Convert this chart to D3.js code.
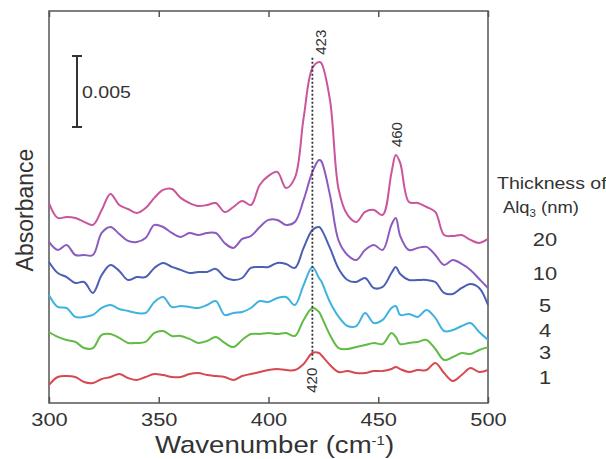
<!DOCTYPE html>
<html>
<head>
<meta charset="utf-8">
<script src="https://cdn.jsdelivr.net/npm/d3@7"></script>
<style>
  body { margin: 0; background: #fff; }
  text { font-family: "Liberation Sans", Arial, sans-serif; fill: #333; }
</style>
</head>
<body>
<svg id="chart" width="606" height="459"></svg>
<script>
// wavenumber grid (cm-1)
var wavenumber = [300,304,308,312,316,320,324,328,332,336,340,344,348,352,356,360,364,368,372,376,
    380,384,388,392,396,400,404,408,412,416,420,423,424,428,432,436,440,444,448,452,456,458,
    460,464,468,472,476,480,484,488,492,496,500];

// absorbance traces, offset as plotted (units of 1e-3)
var abs20 = [14.08,13.03,13.10,13.03,12.75,12.54,13.59,14.72,13.94,13.66,
    13.38,13.73,14.44,15.00,15.07,14.44,14.08,13.87,13.94,14.08,
    13.45,13.80,14.23,13.94,15.35,15.99,16.27,15.14,15.85,20.07,
    23.59,24.01,23.94,21.34,15.00,13.24,12.75,13.45,13.59,13.24,16.20,
    17.46,16.90,14.15,14.08,13.80,13.45,11.83,11.76,11.83,11.48,11.27,11.55];
var abs10 = [11.34,10.77,11.13,10.42,10.42,10.42,11.97,12.39,11.90,11.41,
    11.34,11.62,12.54,12.39,11.97,11.69,11.97,11.83,11.97,11.97,
    11.27,10.92,11.55,11.76,12.39,12.89,12.89,12.54,12.75,14.30,
    16.27,17.11,17.04,14.65,11.41,10.42,10.07,10.77,11.13,10.77,12.54,
    13.03,11.76,10.77,10.92,10.99,10.42,9.72,10.07,9.79,9.37,8.73,8.10];
var abs5 = [9.93,9.15,8.87,8.45,8.52,7.75,9.01,9.72,9.30,8.66,
    8.87,8.87,9.51,9.86,9.58,9.37,9.15,9.23,9.23,9.44,
    8.87,8.66,8.80,9.51,9.58,9.58,9.86,9.79,9.51,10.92,
    12.18,12.39,12.25,10.92,9.44,8.66,8.52,8.80,8.10,8.17,9.15,
    9.58,9.08,8.66,8.66,8.66,8.52,7.75,7.68,8.10,8.38,8.10,6.90];
var abs4 = [7.61,6.76,6.69,6.06,6.06,6.20,6.69,6.90,6.62,6.48,
    6.34,6.34,7.11,7.46,6.76,6.83,6.76,6.69,6.90,7.18,
    6.20,6.34,6.41,6.69,7.18,7.11,7.39,7.46,6.90,8.31,
    9.58,8.80,8.59,7.11,6.06,5.42,5.42,6.34,5.63,5.85,6.69,
    6.83,6.20,6.27,6.06,6.55,5.99,5.07,5.14,5.42,5.63,5.00,4.44];
var abs3 = [5.00,4.65,4.44,4.30,3.87,3.87,4.79,4.86,4.58,4.23,
    4.23,4.30,4.93,5.07,4.72,4.72,4.51,4.23,4.37,4.65,
    4.23,3.94,4.44,4.86,4.86,4.93,4.86,4.93,4.72,5.85,
    6.69,6.41,6.13,4.79,3.87,3.80,3.94,4.08,4.23,4.15,4.93,
    4.65,4.15,4.23,4.30,4.44,3.80,3.03,3.24,3.52,3.45,3.73,3.94];
var abs1 = [1.27,1.83,1.90,1.83,1.48,1.41,1.69,1.83,2.04,1.76,
    1.62,1.83,2.04,1.97,1.83,1.83,2.04,2.11,1.97,1.90,
    1.83,1.62,1.90,2.04,2.18,2.32,2.39,2.32,2.32,2.75,
    3.52,3.52,3.38,2.68,2.18,2.25,2.11,2.11,2.25,2.25,2.39,
    2.54,2.39,2.18,2.32,2.32,2.82,2.11,1.55,1.97,2.46,2.18,2.32];

var thickness = ["20", "10", "5", "4", "3", "1"];
var seriesList = [abs20, abs10, abs5, abs4, abs3, abs1];
var colorArray = ["#c9559c", "#8c5bbf", "#4a5fb5", "#3fb3dd", "#62bb45", "#d6494f"];

var xTicks = [300, 350, 400, 450, 500];
var scaleBarValue = 5;          // 0.005
var peakMarks = [
    {label: "423", wn: 424, v: 25.4},
    {label: "460", wn: 458.5, v: 18.9},
    {label: "420", wn: 420, v: 1.6}
];
var dashedLine = {wn: 420, from: 24.3, to: 2.9};

//=================================================================

var margin = {top: 11, right: 118, bottom: 56, left: 49};
var width = 606 - margin.left - margin.right;
var height = 459 - margin.top - margin.bottom;
var stretch = 1.15;   // the figure's lettering is slightly wide

var x = d3.scaleLinear().domain([300, 500]).range([0, width]);
var y = d3.scaleLinear().domain([0, 27.6]).range([height, 0]);

var svg = d3.select("#chart");
var chart = svg.append("g")
    .attr("transform", "translate(" + margin.left + "," + margin.top + ")");

// frame
chart.append("rect")
    .attr("width", width)
    .attr("height", height)
    .attr("fill", "none")
    .attr("stroke", "#555")
    .attr("stroke-width", 1.5);

// bottom axis with inward ticks
var xAxis = chart.append("g")
    .attr("transform", "translate(0," + height + ")")
    .call(d3.axisBottom(x).tickValues(xTicks).tickSizeInner(-6).tickSizeOuter(0).tickPadding(10));
xAxis.select(".domain").remove();
xAxis.selectAll("line").attr("stroke", "#555").attr("stroke-width", 1.5);
xAxis.selectAll("text")
    .attr("fill", "#333")
    .style("font-size", "19px")
    .attr("transform", "scale(" + stretch + ",1)");

// top axis, ticks only
var topAxis = chart.append("g")
    .call(d3.axisTop(x).tickValues(xTicks).tickSizeInner(-6).tickSizeOuter(0).tickFormat(""));
topAxis.select(".domain").remove();
topAxis.selectAll("line").attr("stroke", "#555").attr("stroke-width", 1.5);

// axis titles
var xTitle = chart.append("text")
    .attr("transform", "translate(" + (x(400) + 6) + "," + (height + 50) + ") scale(" + stretch + ",1)")
    .attr("text-anchor", "middle")
    .style("font-size", "24px");
xTitle.append("tspan").text("Wavenumber (cm");
xTitle.append("tspan").attr("dy", -8).style("font-size", "13px").text("-1");
xTitle.append("tspan").attr("dy", 8).text(")");

chart.append("text")
    .attr("transform", "translate(" + (33 - margin.left) + "," + (210 - margin.top) + ") rotate(-90)")
    .attr("text-anchor", "middle")
    .style("font-size", "23px")
    .text("Absorbance");

// scale bar
var barX = 28, barTop = 45;
var barLen = y(0) - y(scaleBarValue);
var bar = chart.append("g").attr("stroke", "#333").attr("stroke-width", 2);
bar.append("line").attr("x1", barX).attr("x2", barX).attr("y1", barTop).attr("y2", barTop + barLen);
bar.append("line").attr("x1", barX - 5).attr("x2", barX + 5).attr("y1", barTop).attr("y2", barTop);
bar.append("line").attr("x1", barX - 5).attr("x2", barX + 5).attr("y1", barTop + barLen).attr("y2", barTop + barLen);
chart.append("text")
    .attr("transform", "translate(" + (barX + 5) + "," + (barTop + barLen / 2 + 6) + ") scale(" + stretch + ",1)")
    .style("font-size", "17px")
    .text("0.005");

// traces
var line = d3.line()
    .x(function(d, i) { return x(wavenumber[i]); })
    .y(function(d) { return y(d); })
    .curve(d3.curveCatmullRom.alpha(0.5));

seriesList.forEach(function(values, index) {
    chart.append("path")
        .datum(values)
        .attr("d", line)
        .attr("fill", "none")
        .attr("stroke", colorArray[index])
        .attr("stroke-width", 2)
        .attr("stroke-linejoin", "round");
});

// dashed marker at 420
chart.append("line")
    .attr("x1", x(dashedLine.wn))
    .attr("x2", x(dashedLine.wn))
    .attr("y1", y(dashedLine.from))
    .attr("y2", y(dashedLine.to))
    .attr("stroke", "#333")
    .attr("stroke-width", 1.8)
    .attr("stroke-dasharray", "2,2");

// peak labels
peakMarks.forEach(function(p) {
    chart.append("text")
        .attr("transform", "translate(" + (x(p.wn) + 5) + "," + y(p.v) + ") rotate(-90)")
        .attr("text-anchor", "middle")
        .style("font-size", "15px")
        .text(p.label);
});

// legend
var legend = svg.append("g");
legend.append("text")
    .attr("transform", "translate(497,189) scale(" + stretch + ",1)")
    .style("font-size", "17px")
    .text("Thickness of");
var alq = legend.append("text")
    .attr("transform", "translate(503,213) scale(" + stretch + ",1)")
    .style("font-size", "16px");
alq.append("tspan").text("Alq");
alq.append("tspan").attr("dy", 4).style("font-size", "10px").text("3");
alq.append("tspan").attr("dy", -4).text(" (nm)");

var legendY = [246, 280, 312, 337, 359, 384];
thickness.forEach(function(t, index) {
    legend.append("text")
        .attr("transform", "translate(545," + legendY[index] + ") scale(" + stretch + ",1)")
        .attr("text-anchor", "middle")
        .style("font-size", "19px")
        .text(t);
});
</script>
</body>
</html>
